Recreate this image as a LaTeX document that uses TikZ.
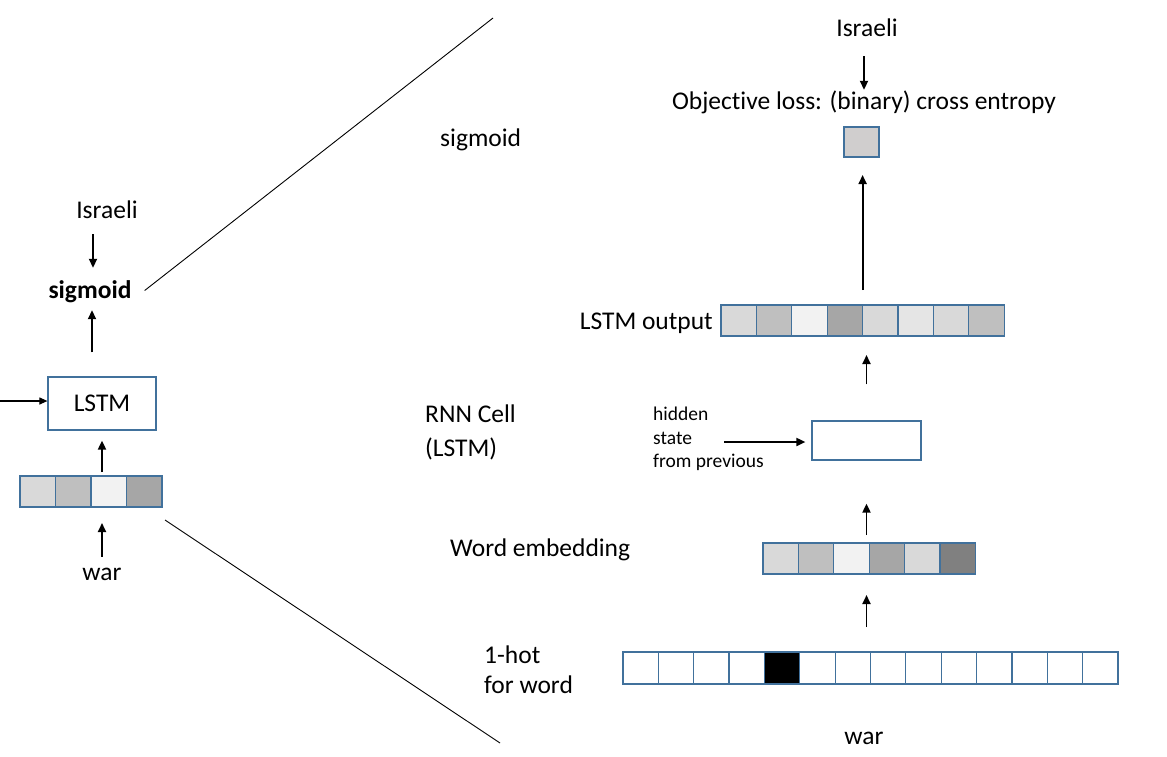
\documentclass[tikz,border=0pt]{standalone}
\usepackage{fontspec}
\setmainfont{Carlito}[Ligatures=NoCommon]
\usetikzlibrary{arrows.meta}
\definecolor{bd}{RGB}{65,113,156}
\definecolor{sqc}{HTML}{D0CECE}
\begin{document}
\begin{tikzpicture}[x=1pt,y=-1pt,
  big/.style={font=\fontsize{25.5}{30}\selectfont, inner sep=0pt, text height=18pt, text depth=5pt},
  bigb/.style={font=\fontsize{25.5}{30}\selectfont\bfseries, inner sep=0pt, text height=18pt, text depth=5pt},
  small/.style={font=\fontsize{19.5}{24}\selectfont, inner sep=0pt},
  cell/.style={draw=bd, line width=1.2pt, minimum width=35.4pt, minimum height=31pt, inner sep=0pt, outer sep=0pt},
  boxx/.style={draw=bd, line width=1.2pt, inner sep=0pt},
  arr/.style={line width=1.8pt, -{Triangle[length=9pt,width=8pt]}},
  zl/.style={line width=0.9pt}]
\useasboundingbox[fill=white] (0,0) rectangle (1167,756);

% ---------------- left part ----------------
\node[big, anchor=base] (israeliL) at (107,218) {Israeli};
\node[bigb, anchor=base] (sigL) at (90,298) {sigmoid};
\node[boxx, minimum width=108pt, minimum height=53pt, font=\fontsize{25.5}{30}\selectfont, text height=16.4pt, text depth=0pt] (lstmL) at (102,403.5) {LSTM};
\coordinate (inL) at (0,401);
\draw[arr, line width=1.1pt, -{Triangle[length=8pt,width=7pt]}] (inL) -- (inL -| lstmL.west);
\foreach \g [count=\i] in {15,25,5,35}
  \node[cell, minimum width=35.5pt, fill=black!\g] (eL\i) at ({20+35.5*(\i-0.5)},491.5) {};
\node[big, anchor=base] (warL) at (102,580) {war};

\draw[arr, shorten <=11pt, shorten >=12pt] ([shift={(-14,0)}]israeliL.south) -- ([shift={(3,0)}]sigL.north);
\draw[arr, shorten <=24pt, shorten >=7pt] ([shift={(-10,0)}]lstmL.north) -- ([shift={(2,0)}]sigL.south);
\draw[arr, shorten <=4pt, shorten >=10pt] (lstmL.south |- eL1.north) -- (lstmL.south);
\draw[arr, shorten <=5pt, shorten >=16pt] (warL.north) -- (warL.north |- eL1.south);

% zoom lines
\coordinate (zt) at (493,18);
\coordinate (zb) at (500,743);
\draw[zl] ([shift={(13,-1)}]sigL.east) -- (zt);
\draw[zl] ([shift={(3,13)}]eL4.south east) -- (zb);

% ---------------- right part ----------------
\node[big, anchor=base] (israeliR) at (867,36) {Israeli};
\node[big, anchor=base] (obj) at (864,109) {Objective loss: (binary) cross entropy};
\draw[arr, shorten <=15pt, shorten >=1pt] (obj.north |- israeliR.south) -- (obj.north);
\node[cell, fill=sqc, minimum width=35pt, minimum height=30pt] (sq) at (861.5,142) {};
\node[big, anchor=base west] (sigR) at (440,146) {sigmoid};

\foreach \g [count=\i] in {15,25,5,35,15,10,15,25}
  \node[cell, fill=black!\g] (o\i) at ({721+35.4*(\i-0.5)},320.5) {};
\draw[arr, shorten <=15pt, shorten >=18pt] (o4.north east) -- (o4.north east |- sq.south);
\node[big, anchor=base east] (outlbl) at (713,329) {LSTM output};

\node[boxx, minimum width=109pt, minimum height=39pt] (rnn) at (866.5,440.5) {};
\draw[arr, shorten <=36pt, shorten >=19pt] (rnn.north) -- (rnn.north |- o1.south);
\node[big, anchor=base west] (rnnlbl1) at (425,422) {RNN Cell};
\node[big, anchor=base west] (rnnlbl2) at (425,456) {(LSTM)};
\node[small, anchor=base west] (hid1) at (653,420) {hidden};
\node[small, anchor=base west] (hid2) at (653,444) {state};
\node[small, anchor=base west] (hid3) at (653,467) {from previous};
\coordinate (hs) at (724,442);
\draw[arr, shorten >=6pt] (hs) -- (hs -| rnn.west);

\foreach \g [count=\i] in {15,25,5,35,15,50}
  \node[cell, fill=black!\g] (w\i) at ({763+35.4*(\i-0.5)},558.5) {};
\draw[arr, shorten <=8pt, shorten >=43pt] (rnn.south |- w1.north) -- (rnn.south);
\node[big, anchor=base west] (welbl) at (450,556) {Word embedding};

\foreach \i in {1,...,14}
  \node[cell, minimum width=35.36pt, minimum height=32pt] (h\i) at ({623+35.36*(\i-0.5)},668) {};
\node[cell, minimum width=35.36pt, minimum height=32pt, fill=black] (h5) at ({623+35.36*4.5},668) {};
\draw[arr, shorten <=25pt, shorten >=21pt] (rnn.south |- h1.north) -- (rnn.south |- w1.south);
\node[big, anchor=base west] (oh1) at (484,663) {1-hot};
\node[big, anchor=base west] (oh2) at (484,693) {for word};
\node[big, anchor=base] (warR) at (864,744) {war};
\end{tikzpicture}
\end{document}
